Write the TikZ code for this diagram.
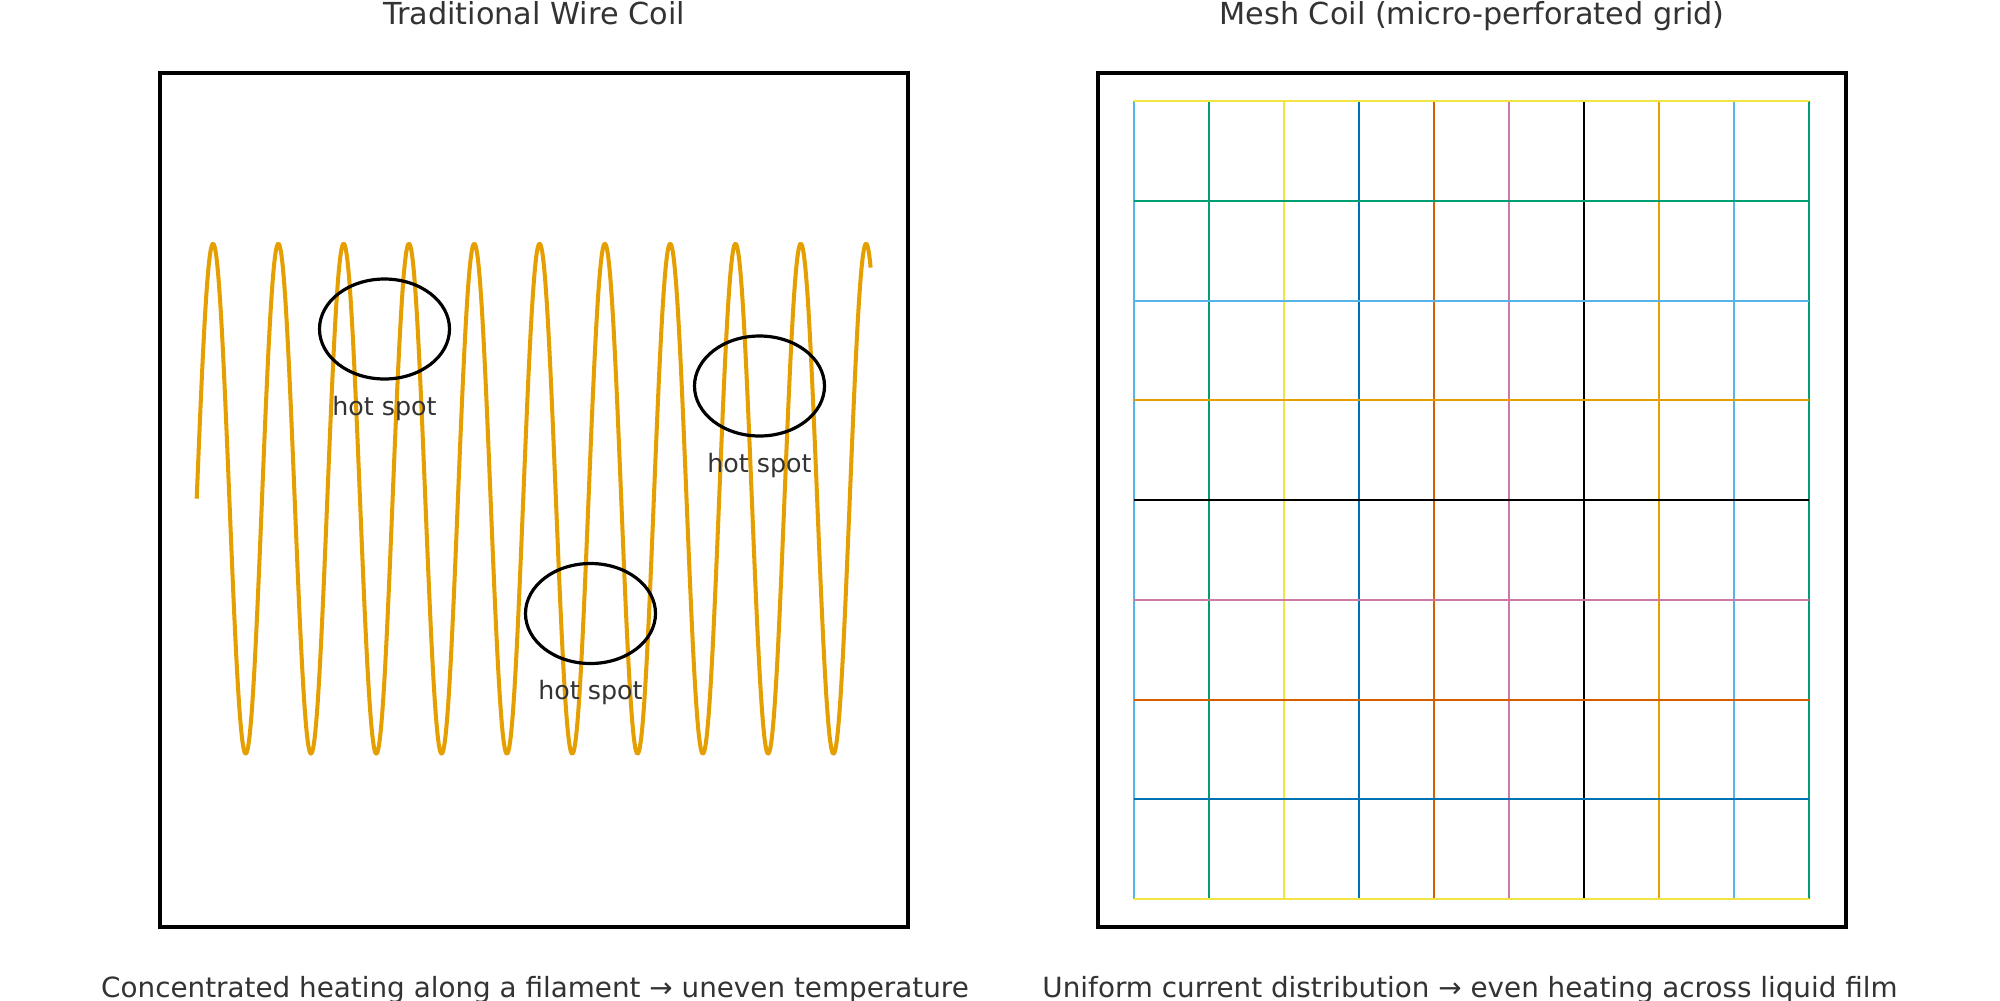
\documentclass[tikz,border=0pt]{standalone}
\usepackage{fontspec}
\setmainfont{DejaVu Sans}
\usetikzlibrary{shapes.geometric}
\definecolor{oiorange}{HTML}{E69F00}
\definecolor{oisky}{HTML}{56B4E9}
\definecolor{oigreen}{HTML}{009E73}
\definecolor{oiyellow}{HTML}{F0E442}
\definecolor{oiblue}{HTML}{0072B2}
\definecolor{oiverm}{HTML}{D55E00}
\definecolor{oipink}{HTML}{CC79A7}
\definecolor{textgray}{HTML}{333333}
\begin{document}
\begin{tikzpicture}[x=0.72bp,y=-0.72bp,
  txt/.style={text=textgray, inner sep=0, anchor=base},
  titletxt/.style={txt, font=\fontsize{21.9}{26}\selectfont},
  captxt/.style={txt, font=\fontsize{20.1}{24}\selectfont},
  hstxt/.style={txt, font=\fontsize{18.3}{22}\selectfont},
  frame/.style={draw=black, line width=2.88bp},
  coil/.style={draw=oiorange, line width=2.9bp, line join=round},
  hotspot/.style={draw=black, line width=2.3bp, ellipse, minimum width=93.6bp, minimum height=72bp, inner sep=0, outer sep=0},
  gridline/.style={line width=1.44bp}]
\useasboundingbox (0,0) rectangle (2000,1000);
\fill[white] (0,0) rectangle (2000,1000);

% titles
\node[titletxt] (t1) at (534,24) {Traditional Wire Coil};
\node[titletxt] (t2) at (1472,24) {Mesh Coil (micro-perforated grid)};

% frames
\draw[frame] (160,73) rectangle (908,927);
\draw[frame] (1098,73) rectangle (1846,927);

% coil
\draw[coil] plot[domain=0:3715, samples=900] ({196.7+0.181417*\x}, {498.7-255*sin(\x)});

% hot spots
\node[hotspot] (hs1) at (384.5,329) {};
\node[hotspot] (hs2) at (759.5,386) {};
\node[hotspot] (hs3) at (590.5,613.5) {};
\node[hstxt] (l1) at (384.5,415) {hot spot};
\node[hstxt] (l2) at (759.5,472) {hot spot};
\node[hstxt] (l3) at (590.5,699.5) {hot spot};

% mesh grid
\foreach \i/\c in {0/oisky,1/oigreen,2/oiyellow,3/oiblue,4/oiverm,5/oipink,6/black,7/oiorange,8/oisky,9/oigreen}
  \draw[gridline, draw=\c] ({1134+75*\i},101) -- ({1134+75*\i},899);
\foreach \j/\c in {0/oiyellow,1/oigreen,2/oisky,3/oiorange,4/black,5/oipink,6/oiverm,7/oiblue,8/oiyellow}
  \draw[gridline, draw=\c] (1134,{101+99.75*\j}) -- (1809,{101+99.75*\j});

% captions
\node[captxt] (c1) at (535,997.5) {Concentrated heating along a filament → uneven temperature};
\node[captxt] (c2) at (1470,997.5) {Uniform current distribution → even heating across liquid film};
\end{tikzpicture}
\end{document}
